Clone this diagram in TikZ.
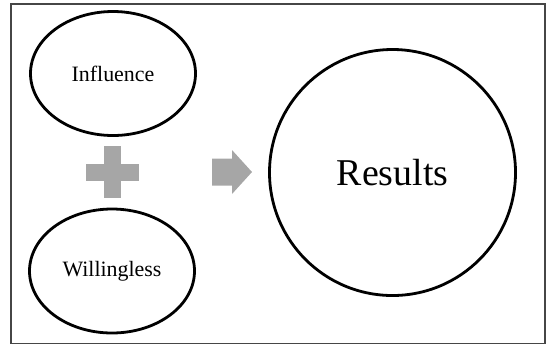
\documentclass[tikz,border=0pt]{standalone}
\usepackage{fontspec}
\setmainfont{Liberation Serif}
\usetikzlibrary{shapes.geometric,positioning}
\definecolor{blockgray}{RGB}{166,166,166}
\definecolor{framegray}{RGB}{70,70,70}

\begin{document}
\begin{tikzpicture}[x=1bp, y=-1bp,
    factor/.style={ellipse, draw=black, line width=2.8bp, minimum width=165bp,
      minimum height=124bp, inner sep=0pt, font=\fontsize{22}{25}\selectfont},
    outcome/.style={circle, draw=black, line width=2.8bp, minimum size=246bp,
      inner sep=0pt, font=\fontsize{38}{42}\selectfont},
    sign/.style={fill=blockgray, draw=none}
  ]
  \useasboundingbox (0,0) rectangle (546,344);
  \draw[framegray, line width=1.2bp] (11,4) rectangle (545,343.5);

  \node[factor] (influence) at (113,73.5) {Influence};
  \node[factor] (willing) at (112,271) {Willingless};
  \node[outcome] (results) at (392.5,172.5) {Results};

  % plus sign between the two factors
  \coordinate (plus) at (112.5,172);
  \fill[sign] ([shift={(-8.5,-26)}]plus) rectangle ([shift={(8.5,26)}]plus);
  \fill[sign] ([shift={(-26.5,-8.5)}]plus) rectangle ([shift={(26.5,8.5)}]plus);

  % block arrow towards the results
  \coordinate (arrow) at (212,172);
  \fill[sign] ([shift={(0,-13.5)}]arrow) -- ++(20,0) -- ++(0,-8.5) -- ++(20,22)
    -- ++(-20,22) -- ++(0,-8.5) -- ++(-20,0) -- cycle;
\end{tikzpicture}
\end{document}
